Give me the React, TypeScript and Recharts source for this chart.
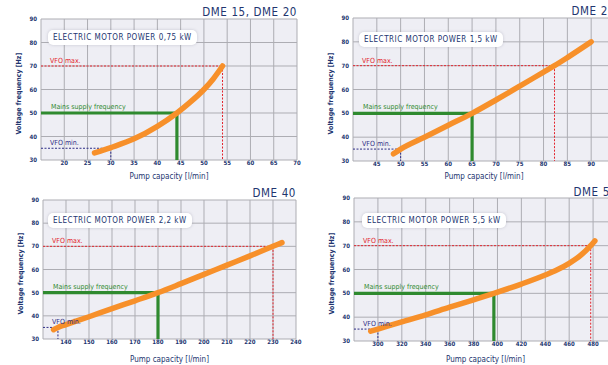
import React from 'react';
import { ComposedChart, Line, XAxis, YAxis, CartesianGrid, ReferenceLine } from 'recharts';

const NAVY = '#22356f';
const ORANGE = '#f7902a';
const GREEN = '#2f8a2f';
const RED = '#e3232b';
const PURPLE = '#2e2d86';
const FONT = '"DejaVu Sans Condensed", "DejaVu Sans", sans-serif';

// shared frequency axis [Hz]
const freqTicks = [30, 40, 50, 60, 70, 80, 90];
// VFO min, mains supply, VFO max [Hz]
const guideFreqs = [35, 50, 70];
const guideLabels = ['VFO min.', 'Mains supply frequency', 'VFO max.'];

// DME 15, DME 20 - 0,75 kW
const flow1 = [26.5, 30, 35, 40, 44.2, 47, 50, 52, 54];
const freq1 = [33, 35.3, 39, 44.3, 50, 54.5, 60, 64.5, 70];
const flowTicks1 = [15, 20, 25, 30, 35, 40, 45, 50, 55, 60, 65, 70];
const guideFlows1 = [30, 44.2, 54];

// DME 25 - 1,5 kW
const flow2 = [48.5, 50, 55, 60, 65, 70, 75, 80, 82.3, 85, 90];
const freq2 = [33, 35, 40, 45, 50, 55.6, 61.4, 67.3, 70, 73.4, 80];
const flowTicks2 = [40, 45, 50, 55, 60, 65, 70, 75, 80, 85, 90, 95];
const guideFlows2 = [50, 65, 82.3];

// DME 40 - 2,2 kW
const flow3 = [134.6, 136.5, 140, 150, 160, 170, 180, 190, 200, 210, 220, 230, 233.9];
const freq3 = [34, 35, 36.2, 39.6, 43.1, 46.5, 50, 53.9, 57.9, 61.9, 65.9, 70, 71.6];
const flowTicks3 = [130, 140, 150, 160, 170, 180, 190, 200, 210, 220, 230, 240];
const guideFlows3 = [136.5, 180, 230];

// DME 50 - 5,5 kW
const flow4 = [294, 300, 320, 340, 360, 380, 397, 420, 440, 450, 460, 470, 478, 481.5];
const freq4 = [34.1, 35, 38, 41, 44.2, 47.3, 50, 53.9, 57.7, 59.9, 62.6, 66.1, 70, 72];
const flowTicks4 = [280, 300, 320, 340, 360, 380, 400, 420, 440, 460, 480, 500];
const guideFlows4 = [300, 397, 478];

type PanelProps = {
  title: string;
  power: string;
  flows: number[];
  freqs: number[];
  flowTicks: number[];
  guideFlows: number[];
  left: number;
  top: number;
  width: number;
  height: number;
  margin: { top: number; right: number; bottom: number; left: number };
  xAxisHeight: number;
  boxLeft: number;
  boxTop: number;
  titleTop: number;
};

const tickStyle = { fill: NAVY, fontSize: 6, fontWeight: 700, fontFamily: FONT };

function Panel(p: PanelProps) {
  const data = p.flows.map((f, i) => ({ flow: f, freq: p.freqs[i] }));
  const xMin = p.flowTicks[0];
  const xMax = p.flowTicks[p.flowTicks.length - 1];
  const yMin = freqTicks[0];
  const plotRight = p.width - p.margin.right;
  const colors = [PURPLE, GREEN, RED];
  return (
    <div style={{ position: 'absolute', left: p.left, top: p.top, width: p.width, height: p.height }}>
      <ComposedChart width={p.width} height={p.height} data={data} margin={p.margin}>
        <CartesianGrid stroke="#adadb3" fill="#eeeef4" strokeWidth={1} />
        <XAxis
          dataKey="flow"
          type="number"
          domain={[xMin, xMax]}
          ticks={p.flowTicks}
          allowDataOverflow
          height={p.xAxisHeight}
          axisLine={false}
          tickLine={false}
          tickSize={1}
          tickMargin={0}
          interval={0}
          tick={tickStyle}
          tickFormatter={(v: number, i: number) => (i === 0 ? '' : String(v))}
          label={{
            value: 'Pump capacity [l/min]',
            position: 'insideBottom',
            offset: 3,
            fill: NAVY,
            fontSize: 8,
            fontFamily: FONT,
          }}
        />
        <YAxis
          type="number"
          domain={[yMin, freqTicks[freqTicks.length - 1]]}
          ticks={freqTicks}
          width={24}
          axisLine={false}
          tickLine={false}
          tickSize={2}
          tickMargin={2}
          interval={0}
          tick={tickStyle}
          label={{
            value: 'Voltage frequency [Hz]',
            angle: -90,
            position: 'insideLeft',
            offset: 2,
            dy: 4,
            fill: NAVY,
            fontSize: 7,
            fontWeight: 700,
            fontFamily: FONT,
            style: { textAnchor: 'middle' },
          }}
        />
        {p.guideFlows.map((gf, i) => (
          <ReferenceLine
            key={'h' + i}
            segment={[
              { x: xMin, y: guideFreqs[i] },
              { x: gf, y: guideFreqs[i] },
            ]}
            stroke={colors[i]}
            strokeWidth={i === 1 ? 3.2 : 1}
            strokeDasharray={i === 1 ? undefined : '2 1.5'}
            label={{
              value: guideLabels[i],
              position: 'insideBottomLeft',
              offset: i === 1 ? 4 : 3,
              dx: 6,
              fill: colors[i],
              fontSize: 7,
              fontFamily: FONT,
            }}
          />
        ))}
        {p.guideFlows.map((gf, i) => (
          <ReferenceLine
            key={'v' + i}
            segment={[
              { x: gf, y: guideFreqs[i] },
              { x: gf, y: yMin },
            ]}
            stroke={colors[i]}
            strokeWidth={i === 1 ? 3.2 : 1}
            strokeDasharray={i === 1 ? undefined : '2 1.5'}
          />
        ))}
        <Line
          dataKey="freq"
          type="monotone"
          stroke={ORANGE}
          strokeWidth={5.5}
          strokeLinecap="round"
          dot={false}
          activeDot={false}
          isAnimationActive={false}
        />
      </ComposedChart>
      <div
        style={{
          position: 'absolute',
          left: p.boxLeft,
          top: p.boxTop,
          background: '#fff',
          borderRadius: 5,
          boxShadow: '0 0 3px rgba(120,120,140,0.35)',
          padding: '0 5px',
          height: 15,
          lineHeight: '15px',
          fontFamily: FONT,
          fontSize: 8,
          letterSpacing: 0.5,
          color: NAVY,
          whiteSpace: 'nowrap',
        }}
      >
        {p.power}
      </div>
      <div
        style={{
          position: 'absolute',
          right: p.width - plotRight,
          top: p.titleTop,
          fontFamily: FONT,
          fontSize: 11.5,
          lineHeight: '12px',
          letterSpacing: 0.6,
          color: NAVY,
          whiteSpace: 'nowrap',
        }}
      >
        {p.title}
      </div>
    </div>
  );
}

export default function App() {
  return (
    <div
      style={{
        position: 'fixed',
        left: 0,
        top: 0,
        width: 608,
        height: 365,
        overflow: 'hidden',
        background: '#fff',
      }}
    >
      <Panel
        title="DME 15, DME 20"
        power="ELECTRIC MOTOR POWER 0,75 kW"
        flows={flow1}
        freqs={freq1}
        flowTicks={flowTicks1}
        guideFlows={guideFlows1}
        left={0}
        top={0}
        width={304}
        height={182}
        margin={{ top: 19, right: 7, bottom: 0, left: 17 }}
        xAxisHeight={22}
        boxLeft={48}
        boxTop={30}
        titleTop={6}
      />
      <Panel
        title="DME 25"
        power="ELECTRIC MOTOR POWER 1,5 kW"
        flows={flow2}
        freqs={freq2}
        flowTicks={flowTicks2}
        guideFlows={guideFlows2}
        left={304}
        top={0}
        width={320}
        height={182}
        margin={{ top: 18, right: 9, bottom: 0, left: 25 }}
        xAxisHeight={21}
        boxLeft={55}
        boxTop={32}
        titleTop={5}
      />
      <Panel
        title="DME 40"
        power="ELECTRIC MOTOR POWER 2,2 kW"
        flows={flow3}
        freqs={freq3}
        flowTicks={flowTicks3}
        guideFlows={guideFlows3}
        left={0}
        top={182}
        width={304}
        height={183}
        margin={{ top: 18, right: 8, bottom: 0, left: 19 }}
        xAxisHeight={26}
        boxLeft={48}
        boxTop={31}
        titleTop={5}
      />
      <Panel
        title="DME 50"
        power="ELECTRIC MOTOR POWER 5,5 kW"
        flows={flow4}
        freqs={freq4}
        flowTicks={flowTicks4}
        guideFlows={guideFlows4}
        left={304}
        top={182}
        width={320}
        height={183}
        margin={{ top: 16, right: 7, bottom: 0, left: 26 }}
        xAxisHeight={24}
        boxLeft={58}
        boxTop={31}
        titleTop={4}
      />
    </div>
  );
}
